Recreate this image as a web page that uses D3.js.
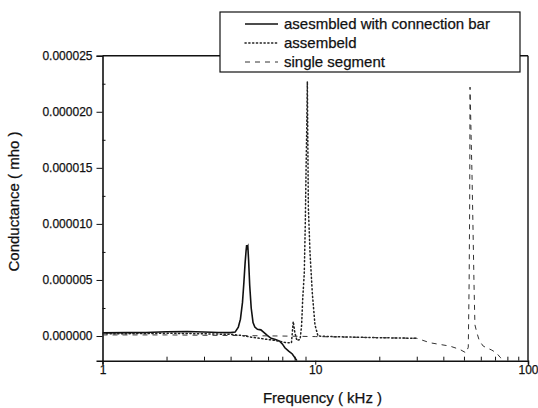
<!DOCTYPE html>
<html lang="en">
<head>
  <meta charset="UTF-8">
  <title>Conductance vs Frequency</title>
  <script src="https://cdn.jsdelivr.net/npm/d3@7"></script>
  <style>
    body { margin: 0; background: #fff; }
    svg text { font-family: "Liberation Sans", Arial, sans-serif; fill: #111; stroke: #111; stroke-width: 0.25; }
    .axis path, .axis line { stroke: #111; }
  </style>
</head>
<body>
  <script>
    // frequency in kHz, conductance in micro-mho (scaled back below)
    const seriesNames = ["asesmbled with connection bar", "assembeld", "single segment"];

    const barFreq = [1, 1.3, 1.6, 2.0, 2.5, 3.0, 3.5, 4.0, 4.2, 4.35, 4.45, 4.55, 4.62, 4.68, 4.73, 4.76,
      4.79, 4.82, 4.86, 4.92, 5.0, 5.1, 5.2, 5.35, 5.55, 5.75, 5.95, 6.2, 6.5, 6.8, 7.0, 7.2, 7.5, 7.8, 8.0, 8.2];
    const barG = [0.28, 0.3, 0.32, 0.38, 0.4, 0.36, 0.32, 0.3, 0.35, 0.8, 1.5, 3.0, 4.8, 6.5, 7.6, 8.1,
      7.9, 8.0, 6.8, 4.5, 2.5, 1.2, 0.8, 0.6, 0.55, 0.3, 0.05, -0.2, -0.3, -0.45, -0.7, -1.05, -1.35, -1.6, -1.9, -2.2];

    const asmFreq = [1, 1.5, 2, 3, 4, 4.5, 5, 5.7, 6.5, 7.3, 7.73, 7.88, 8.02, 8.2, 8.49, 8.63, 8.73, 8.88,
      8.98, 9.05, 9.12, 9.18, 9.28, 9.45, 9.69, 9.97, 10.3, 12, 15, 20, 30];
    const asmG = [0.2, 0.22, 0.25, 0.2, 0.15, 0.05, -0.1, -0.25, -0.4, -0.6, -0.6, 1.3, 0.3, -0.4, -0.3, 1.0, 3.3, 5.6,
      10.1, 14.6, 18.5, 22.7, 11.5, 7.4, 3.8, 1.0, 0.0, -0.05, -0.1, -0.15, -0.2];

    const segFreq = [1, 2, 4, 7, 10, 15, 20, 25, 30, 34.6, 43, 47.9, 51.1, 52.4, 52.9, 53.2, 53.4, 54.0, 54.6,
      55.1, 55.7, 56.3, 57.5, 59, 61.6, 64, 67.5, 71, 74, 77];
    const segG = [0.1, 0.1, 0.05, 0.0, -0.05, -0.1, -0.15, -0.18, -0.2, -0.6, -0.9, -1.2, -1.5, -1.0, 5, 12, 22.2, 18, 14,
      10, 5, 1, 0.3, -0.4, -0.9, -1.05, -1.25, -1.5, -1.9, -2.2];

    const xMajor = [1, 10, 100];
    const xMinor = [2, 3, 4, 5, 6, 7, 8, 9, 20, 30, 40, 50, 60, 70, 80, 90];
    const yMajor = [0, 5, 10, 15, 20, 25];
    const yMinor = [2.5, 7.5, 12.5, 17.5, 22.5];

    const w = 538, h = 408;
    const x = d3.scaleLog().domain([1, 100]).range([102.5, 528]);
    const y = d3.scaleLinear().domain([-2.2, 25]).range([360.7, 55.7]);
    const fmt = d => (d * 1e-6).toFixed(6);

    const svg = d3.select("body").append("svg")
      .attr("width", w).attr("height", h);

    svg.append("clipPath").attr("id", "plot")
      .append("rect").attr("x", 102.5).attr("y", 55.7).attr("width", 425.5).attr("height", 305);

    // frame
    svg.append("line").attr("x1", 102.5).attr("x2", 528).attr("y1", 55.7).attr("y2", 55.7)
      .attr("stroke", "#111").attr("stroke-width", 1.4);
    svg.append("line").attr("x1", 528).attr("x2", 528).attr("y1", 55.7).attr("y2", 360.7)
      .attr("stroke", "#111").attr("stroke-width", 1.4);

    // x axis
    svg.append("g").attr("class", "axis")
      .attr("transform", "translate(0,360.7)")
      .call(d3.axisBottom(x).tickValues(xMajor).tickFormat(d3.format("d")).tickSize(4).tickPadding(1))
      .call(g => g.select(".domain").attr("stroke-width", 1.6))
      .call(g => g.selectAll("text").attr("font-size", 12));
    svg.append("g").attr("class", "axis")
      .attr("transform", "translate(0,360.7)")
      .call(d3.axisBottom(x).tickValues(xMinor).tickFormat("").tickSize(-4))
      .call(g => g.select(".domain").remove());

    // y axis
    svg.append("g").attr("class", "axis")
      .attr("transform", "translate(102.5,0)")
      .call(d3.axisLeft(y).tickValues(yMajor).tickFormat(fmt).tickSize(6).tickPadding(4))
      .call(g => g.select(".domain").attr("stroke-width", 1.6))
      .call(g => g.selectAll("text").attr("font-size", 12));
    svg.append("g").attr("class", "axis")
      .attr("transform", "translate(102.5,0)")
      .call(d3.axisLeft(y).tickValues(yMinor).tickFormat("").tickSize(-3))
      .call(g => g.select(".domain").remove());

    // titles
    svg.append("text").attr("x", 322.5).attr("y", 403).attr("text-anchor", "middle")
      .attr("font-size", 15).text("Frequency ( kHz )");
    svg.append("text").attr("transform", "translate(19,201.5) rotate(-90)").attr("text-anchor", "middle")
      .attr("font-size", 15).text("Conductance ( mho )");

    // series
    const line = d3.line().x(d => x(d[0])).y(d => y(d[1]));
    const styles = [
      { width: 1.6, dash: null, color: "#111" },
      { width: 1.5, dash: "1.2,2.6", color: "#222" },
      { width: 1, dash: "5,5", color: "#333" }
    ];
    const series = [d3.zip(barFreq, barG), d3.zip(asmFreq, asmG), d3.zip(segFreq, segG)];

    svg.append("g").attr("clip-path", "url(#plot)")
      .selectAll("path").data(series).enter().append("path")
      .attr("d", line)
      .attr("fill", "none")
      .attr("stroke", (d, i) => styles[i].color)
      .attr("stroke-width", (d, i) => styles[i].width)
      .attr("stroke-dasharray", (d, i) => styles[i].dash)
      .attr("stroke-linecap", (d, i) => i === 1 ? "round" : "butt");

    // legend
    const legend = svg.append("g");
    legend.append("rect").attr("x", 220).attr("y", 12).attr("width", 300).attr("height", 60)
      .attr("fill", "#fff").attr("stroke", "#111").attr("stroke-width", 1.2);
    const rows = legend.selectAll("g.row").data(seriesNames).enter().append("g")
      .attr("class", "row")
      .attr("transform", (d, i) => `translate(0,${24 + i * 19})`);
    rows.append("line").attr("x1", 245).attr("x2", 278)
      .attr("stroke", (d, i) => styles[i].color)
      .attr("stroke-width", (d, i) => styles[i].width)
      .attr("stroke-dasharray", (d, i) => styles[i].dash)
      .attr("stroke-linecap", (d, i) => i === 1 ? "round" : "butt");
    rows.append("text").attr("x", 284).attr("y", 5).attr("font-size", 15).text(d => d);
  </script>
</body>
</html>
